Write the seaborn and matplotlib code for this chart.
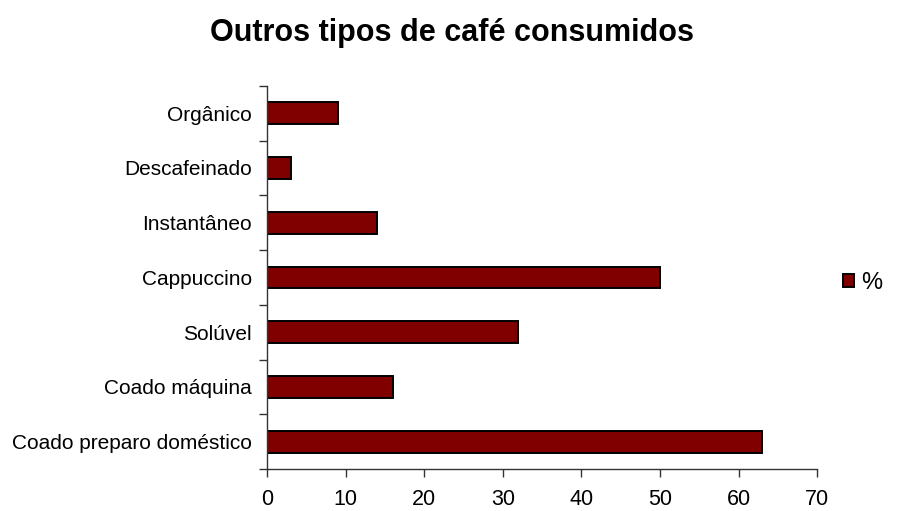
import matplotlib
matplotlib.use("Agg")
import matplotlib.pyplot as plt
import seaborn as sns
import pandas as pd
import numpy as np

categories = ["Orgânico", "Descafeinado", "Instantâneo", "Cappuccino",
              "Solúvel", "Coado máquina", "Coado preparo doméstico"]
values = [9, 3, 14, 50, 32, 16, 63]
series_name = "%"
x_ticks = [0, 10, 20, 30, 40, 50, 60, 70]

sns.set_theme(style="white")
plt.rcParams["font.family"] = ["Liberation Sans", "DejaVu Sans"]
plt.rcParams["xtick.bottom"] = True
plt.rcParams["ytick.left"] = True
plt.rcParams["text.color"] = "black"
plt.rcParams["xtick.labelcolor"] = "black"
plt.rcParams["ytick.labelcolor"] = "black"

df = pd.DataFrame({"tipo": categories, "valor": values, "serie": series_name})

fig = plt.figure(figsize=(9.08, 5.11), dpi=100)
ax = fig.add_axes([0.294, 0.082, 0.606, 0.750])

sns.barplot(data=df, y="tipo", x="valor", hue="serie", orient="h",
            palette=["#800000"], saturation=1, edgecolor="black", linewidth=1.4,
            width=0.4, ax=ax, legend=True)

ax.set_xlim(0, 70)
ax.set_ylim(len(categories) - 0.5, -0.5)
ax.set_xticks(x_ticks)
ax.set_xticklabels([str(t) for t in x_ticks], fontsize=15.5)
ax.tick_params(axis="x", direction="out", length=6, width=1, color="#333333", pad=8)
ax.tick_params(axis="y", which="major", length=0, labelsize=15, pad=11)
ax.set_yticks(np.arange(-0.5, len(categories) + 0.5, 1), minor=True)
ax.tick_params(axis="y", which="minor", direction="out", length=6, width=1, color="#333333")
ax.set_xlabel("")
ax.set_ylabel("")
for side in ["top", "right"]:
    ax.spines[side].set_visible(False)
for side in ["left", "bottom"]:
    ax.spines[side].set_color("#333333")
    ax.spines[side].set_linewidth(1)

ax.legend(loc="center left", bbox_to_anchor=(0.905, 0.447), bbox_transform=fig.transFigure,
          frameon=False, fontsize=17, handlelength=0.45, handleheight=0.45,
          handletextpad=0.3)

fig.suptitle("Outros tipos de café consumidos", x=0.498, y=0.965,
             fontsize=22, fontweight="bold", color="black")

fig.savefig("out.png", dpi=100, facecolor="white")
